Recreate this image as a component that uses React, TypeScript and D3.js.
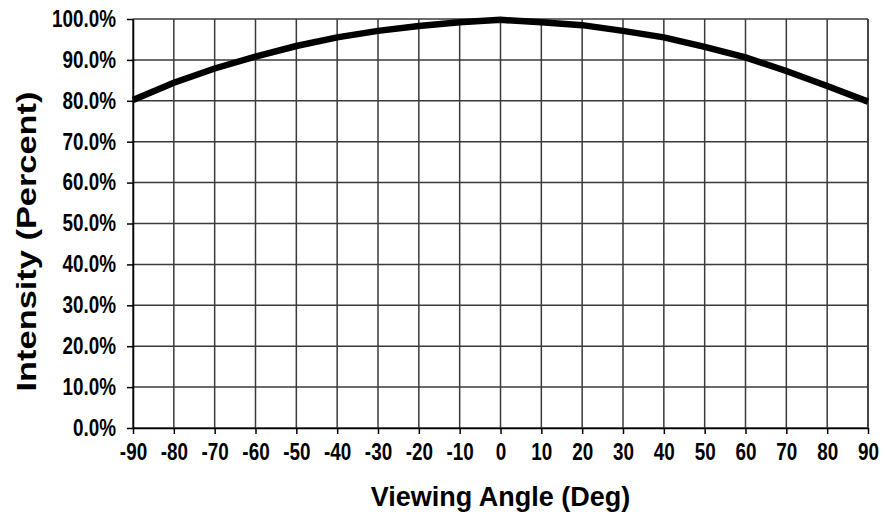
import React, { useRef, useEffect } from 'react';
import * as d3 from 'd3';

// Viewing angle in degrees, intensity in percent
const angles = [-90, -80, -70, -60, -50, -40, -30, -20, -10, 0, 10, 20, 30, 40, 50, 60, 70, 80, 90];
const intensity = [80.2, 84.4, 87.9, 90.8, 93.4, 95.5, 97.1, 98.3, 99.2, 99.8, 99.2, 98.5, 97.1, 95.5, 93.2, 90.6, 87.3, 83.6, 79.8];
const yTicks = [0, 10, 20, 30, 40, 50, 60, 70, 80, 90, 100];

const tickFont = '"Liberation Sans", Arial, sans-serif';
const titleFont = '"Liberation Sans", Arial, sans-serif';

// no narrow font installed, so squeeze the tick labels to a condensed width
function condense(sel: d3.Selection<any, any, any, any>, factor: number) {
    sel.each(function () {
        const t = this as SVGTextElement;
        const w = t.getComputedTextLength();
        d3.select(t)
            .attr('textLength', w * factor)
            .attr('lengthAdjust', 'spacingAndGlyphs');
    });
}

export default function App() {
    const svgRef = useRef<SVGSVGElement>(null);
    const width = 881;
    const height = 518;
    const margin = { top: 19, right: 13, bottom: 90, left: 133 };

    useEffect(() => {
        const svg = d3.select(svgRef.current);
        svg.selectAll('*').remove();

        const data = angles.map((a, i) => ({ angle: a, value: intensity[i] }));

        const x = d3.scaleLinear()
            .domain([-90, 90])
            .range([margin.left, width - margin.right]);

        const y = d3.scaleLinear()
            .domain([0, 100])
            .range([height - margin.bottom, margin.top]);

        // vertical gridlines
        svg.append('g')
            .selectAll('line')
            .data(angles)
            .join('line')
            .attr('x1', d => x(d))
            .attr('x2', d => x(d))
            .attr('y1', y(0))
            .attr('y2', y(100))
            .attr('stroke', '#3a3a3a')
            .attr('stroke-width', 1.5);

        // horizontal gridlines
        svg.append('g')
            .selectAll('line')
            .data(yTicks)
            .join('line')
            .attr('x1', x(-90))
            .attr('x2', x(90))
            .attr('y1', d => y(d))
            .attr('y2', d => y(d))
            .attr('stroke', '#3a3a3a')
            .attr('stroke-width', 1.5);

        // x axis
        svg.append('g')
            .attr('transform', `translate(0,${y(0)})`)
            .call(
                d3.axisBottom(x)
                    .tickValues(angles)
                    .tickFormat(d => `${d}`)
                    .tickSizeInner(6)
                    .tickSizeOuter(0)
                    .tickPadding(10)
            )
            .call(g => g.select('.domain').attr('stroke', 'black').attr('stroke-width', 1.5))
            .call(g => g.selectAll('.tick line').attr('stroke', 'black').attr('stroke-width', 1.5))
            .call(g => g.selectAll('.tick text')
                .attr('font-size', 23)
                .attr('font-weight', 'bold')
                .attr('font-family', tickFont)
                .attr('fill', 'black')
                .call(condense, 0.82)
            );

        // y axis
        svg.append('g')
            .attr('transform', `translate(${x(-90)},0)`)
            .call(
                d3.axisLeft(y)
                    .tickValues(yTicks)
                    .tickFormat(d => `${(+d).toFixed(1)}%`)
                    .tickSizeInner(6)
                    .tickSizeOuter(0)
                    .tickPadding(11)
            )
            .call(g => g.select('.domain').attr('stroke', 'black').attr('stroke-width', 1.5))
            .call(g => g.selectAll('.tick line').attr('stroke', 'black').attr('stroke-width', 1.5))
            .call(g => g.selectAll('.tick text')
                .attr('font-size', 23)
                .attr('font-weight', 'bold')
                .attr('font-family', tickFont)
                .attr('fill', 'black')
                .call(condense, 0.82)
            );

        // right border
        svg.append('line')
            .attr('x1', x(90)).attr('x2', x(90))
            .attr('y1', y(0)).attr('y2', y(100))
            .attr('stroke', '#3a3a3a')
            .attr('stroke-width', 1.5);

        // intensity curve
        svg.append('path')
            .datum(data)
            .attr('fill', 'none')
            .attr('stroke', 'black')
            .attr('stroke-width', 6.5)
            .attr('d', d3.line<{ angle: number; value: number }>()
                .x(d => x(d.angle))
                .y(d => y(d.value)));

        // axis titles
        svg.append('text')
            .attr('x', (x(-90) + x(90)) / 2)
            .attr('y', 506)
            .attr('text-anchor', 'middle')
            .attr('font-size', 27)
            .attr('font-weight', 'bold')
            .attr('font-family', titleFont)
            .text('Viewing Angle (Deg)');

        svg.append('text')
            .attr('transform', `translate(36,${(y(0) + y(100)) / 2 + 18}) rotate(-90)`)
            .attr('text-anchor', 'middle')
            .attr('font-size', 27)
            .attr('font-weight', 'bold')
            .attr('font-family', titleFont)
            .attr('textLength', 300)
            .attr('lengthAdjust', 'spacingAndGlyphs')
            .text('Intensity (Percent)');
    }, []);

    return (
        <svg
            ref={svgRef}
            width={width}
            height={height}
            style={{ position: 'absolute', left: 0, top: 0, background: 'white' }}
        />
    );
}
